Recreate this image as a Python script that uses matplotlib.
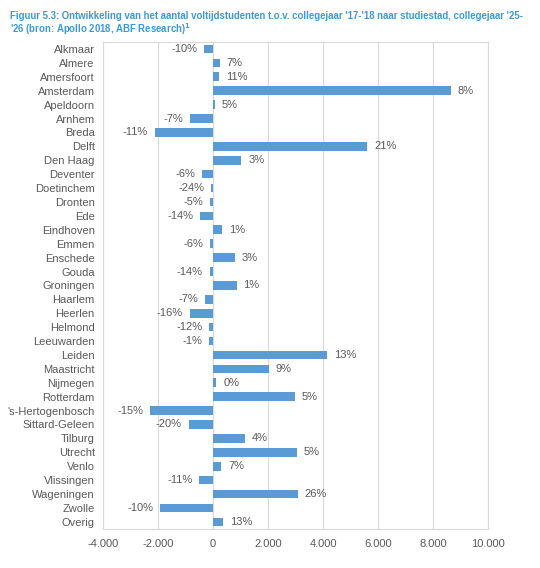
import matplotlib.pyplot as plt
import numpy as np
from matplotlib.ticker import FuncFormatter

plt.rcParams['font.family'] = ['Liberation Sans', 'DejaVu Sans']

# studiesteden, van boven naar beneden
cities = ['Alkmaar', 'Almere', 'Amersfoort', 'Amsterdam', 'Apeldoorn', 'Arnhem',
          'Breda', 'Delft', 'Den Haag', 'Deventer', 'Doetinchem', 'Dronten', 'Ede',
          'Eindhoven', 'Emmen', 'Enschede', 'Gouda', 'Groningen', 'Haarlem',
          'Heerlen', 'Helmond', 'Leeuwarden', 'Leiden', 'Maastricht', 'Nijmegen',
          'Rotterdam', "'s-Hertogenbosch", 'Sittard-Geleen', 'Tilburg', 'Utrecht',
          'Venlo', 'Vlissingen', 'Wageningen', 'Zwolle', 'Overig']

# absolute verandering aantal voltijdstudenten (geschat uit figuur)
change = [-330, 250, 220, 8640, 50, -850, -2120, 5610, 1030, -400, -75, -100, -475,
          340, -110, 790, -120, 850, -300, -850, -135, -145, 4130, 2025, 120,
          2970, -2290, -885, 1150, 3040, 290, -500, 3070, -1915, 350]

# procentuele verandering (labels)
pct = ['-10%', '7%', '11%', '8%', '5%', '-7%', '-11%', '21%', '3%', '-6%', '-24%',
       '-5%', '-14%', '1%', '-6%', '3%', '-14%', '1%', '-7%', '-16%', '-12%', '-1%',
       '13%', '9%', '0%', '5%', '-15%', '-20%', '4%', '5%', '7%', '-11%', '26%',
       '-10%', '13%']

xticks = [-4000, -2000, 0, 2000, 4000, 6000, 8000, 10000]

BAR_COLOR = '#5B9BD5'
TEXT_COLOR = '#595959'
GRID_COLOR = '#D9D9D9'

fig = plt.figure(figsize=(5.4, 5.68), dpi=100)
ax = fig.add_axes([0.191, 0.069, 0.713, 0.857])

y = np.arange(len(cities))
ax.barh(y, change, height=0.62, color=BAR_COLOR, zorder=3)

for yi, v, lab in zip(y, change, pct):
    if v >= 0:
        ax.text(v + 250, yi, lab, va='center', ha='left', fontsize=8, color=TEXT_COLOR)
    else:
        ax.text(v - 250, yi, lab, va='center', ha='right', fontsize=8, color=TEXT_COLOR)

ax.set_xlim(-4000, 10000)
ax.set_ylim(len(cities) - 0.5, -0.5)
ax.set_xticks(xticks)
ax.xaxis.set_major_formatter(FuncFormatter(lambda v, p: f'{int(v):,}'.replace(',', '.')))
ax.set_yticks(y)
ax.set_yticklabels(cities)
ax.tick_params(axis='both', length=0, labelsize=8, labelcolor=TEXT_COLOR)
ax.tick_params(axis='x', pad=7)
ax.tick_params(axis='y', pad=6)
ax.grid(axis='x', color=GRID_COLOR, linewidth=0.8, zorder=0)
for s in ax.spines.values():
    s.set_color(GRID_COLOR)
    s.set_linewidth(0.8)
ax.axvline(0, color=GRID_COLOR, linewidth=0.8, zorder=1)

fig.text(0.018, 0.971, "Figuur 5.3: Ontwikkeling van het aantal voltijdstudenten t.o.v. collegejaar '17-'18 naar studiestad, collegejaar '25-",
         fontsize=6.95, fontweight='bold', color='#3A9AD9', ha='left', va='center')
fig.text(0.018, 0.948, "'26 (bron: Apollo 2018, ABF Research)$^{\\mathbf{1}}$",
         fontsize=6.95, fontweight='bold', color='#3A9AD9', ha='left', va='center')

fig.savefig('out.png', dpi=100)
